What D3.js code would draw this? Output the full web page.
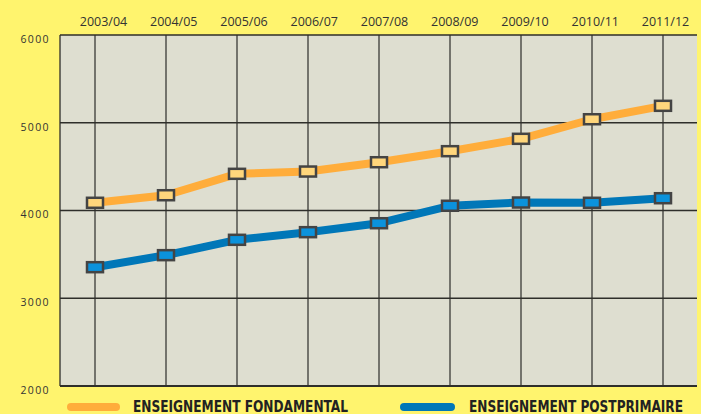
<!DOCTYPE html>
<html>
<head>
<meta charset="utf-8">
<script src="https://cdn.jsdelivr.net/npm/d3@7"></script>
<style>
  html, body { margin: 0; padding: 0; background: #fff46e; }
  svg { display: block; }
</style>
</head>
<body>
<svg id="chart" width="701" height="414"></svg>
<script>
// données
var years = ['2003/04','2004/05','2005/06','2006/07','2007/08','2008/09','2009/10','2010/11','2011/12'];
var fondamental = [4088, 4174, 4418, 4444, 4550, 4676, 4817, 5040, 5193];
var postprimaire = [3354, 3491, 3666, 3753, 3855, 4054, 4091, 4088, 4140];
var yTicks = [2000, 3000, 4000, 5000, 6000];
var seriesNames = ['ENSEIGNEMENT FONDAMENTAL', 'ENSEIGNEMENT POSTPRIMAIRE'];

var svg = d3.select('#chart');
var plotL = 60, plotR = 697, plotT = 35, plotB = 386;

var x = d3.scalePoint().domain(years).range([95, 663]);
var xLab = x.copy().range([103, 665]);
var y = d3.scaleLinear().domain([2000, 6000]).range([plotB, plotT]);

// fond du graphique
svg.append('rect')
  .attr('x', plotL).attr('y', plotT)
  .attr('width', plotR - plotL).attr('height', plotB - plotT)
  .attr('fill', '#deded0');

// grille verticale
svg.append('g').selectAll('line').data(years).enter().append('line')
  .attr('x1', function(d){ return x(d); }).attr('x2', function(d){ return x(d); })
  .attr('y1', plotT).attr('y2', plotB)
  .attr('stroke', '#3a3a36').attr('stroke-width', 1.3);

// grille horizontale
svg.append('g').selectAll('line').data(yTicks).enter().append('line')
  .attr('x1', plotL).attr('x2', plotR)
  .attr('y1', function(d){ return y(d); }).attr('y2', function(d){ return y(d); })
  .attr('stroke', '#2e2e2a').attr('stroke-width', function(d){ return d == 2000 ? 2 : 1.3; });

svg.append('line')
  .attr('x1', plotL).attr('x2', plotL).attr('y1', plotT).attr('y2', plotB)
  .attr('stroke', '#2e2e2a').attr('stroke-width', 1.3);

// axe du haut
var xAxis = svg.append('g')
  .attr('transform', 'translate(0,' + 26 + ')')
  .call(d3.axisTop(xLab).tickSize(0).tickPadding(0));
xAxis.select('.domain').remove();
xAxis.selectAll('text')
  .attr('fill', '#333')
  .style('font-family', '"Open Sans", "Noto Sans", sans-serif')
  .style('font-size', '12.5px');

// axe gauche
var yAxis = svg.append('g')
  .attr('transform', 'translate(50,4)')
  .call(d3.axisLeft(y).tickValues(yTicks).tickSize(0).tickPadding(0).tickFormat(d3.format('d')));
yAxis.select('.domain').remove();
yAxis.selectAll('text')
  .attr('fill', '#333')
  .style('font-family', '"Open Sans", "Noto Sans", sans-serif')
  .style('font-size', '10.5px')
  .style('letter-spacing', '1.4px');

var series = [
  { values: fondamental, line: '#ffad3b', fill: '#ffd67c' },
  { values: postprimaire, line: '#0077b8', fill: '#0b92dc' }
];

var lineGen = d3.line()
  .x(function(d, i){ return x(years[i]); })
  .y(function(d){ return y(d); });

series.forEach(function(s){
  svg.append('path')
    .datum(s.values)
    .attr('d', lineGen)
    .attr('fill', 'none')
    .attr('stroke', s.line)
    .attr('stroke-width', 8)
    .attr('stroke-linejoin', 'round');

  svg.append('g').selectAll('rect').data(s.values).enter().append('rect')
    .attr('x', function(d, i){ return x(years[i]) - 8; })
    .attr('y', function(d){ return y(d) - 5; })
    .attr('width', 16).attr('height', 10)
    .attr('fill', s.fill)
    .attr('stroke', '#444')
    .attr('stroke-width', 2.5);
});

// légende
var legendPos = [{ x1: 67, x2: 120, tx: 133, tw: 215 }, { x1: 400, x2: 455, tx: 469, tw: 214 }];
legendPos.forEach(function(p, i){
  svg.append('line')
    .attr('x1', p.x1 + 4).attr('x2', p.x2 - 4)
    .attr('y1', 407).attr('y2', 407)
    .attr('stroke', series[i].line)
    .attr('stroke-width', 8)
    .attr('stroke-linecap', 'round');
  svg.append('text')
    .attr('x', p.tx).attr('y', 412)
    .attr('textLength', p.tw)
    .attr('lengthAdjust', 'spacingAndGlyphs')
    .attr('fill', '#222')
    .style('font-family', '"Liberation Sans Narrow", "DejaVu Sans Condensed", sans-serif')
    .style('font-weight', 'bold')
    .style('font-size', '16.5px')
    .text(seriesNames[i]);
});
</script>
</body>
</html>
